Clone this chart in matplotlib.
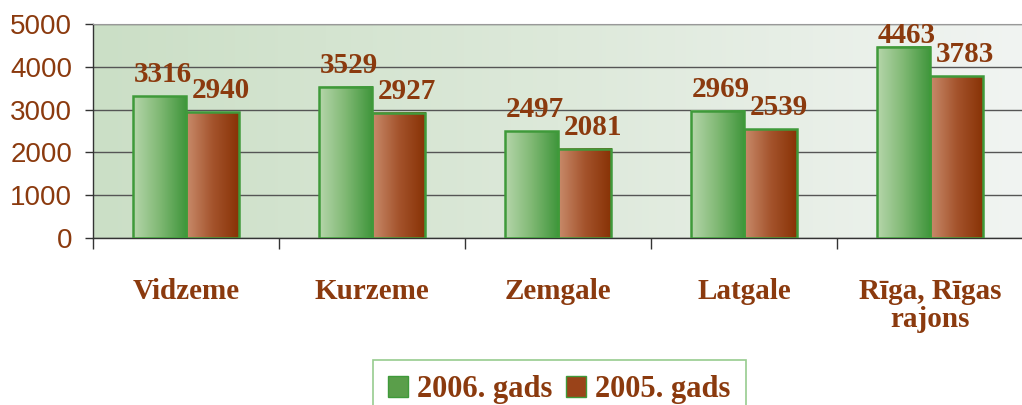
import numpy as np
import matplotlib
matplotlib.use("Agg")
import matplotlib.pyplot as plt
from matplotlib.colors import LinearSegmentedColormap
from matplotlib.patches import Rectangle, Patch

categories = ["Vidzeme", "Kurzeme", "Zemgale", "Latgale", "Rīga, Rīgas\nrajons"]
series_names = ["2006. gads", "2005. gads"]
values_2006 = [3316, 3529, 2497, 2969, 4463]
values_2005 = [2940, 2927, 2081, 2539, 3783]
yticks = [0, 1000, 2000, 3000, 4000, 5000]

brown = "#8b3a0e"
edge_green = "#3f9a3a"
cm_green = LinearSegmentedColormap.from_list("g", ["#b6d6ab", "#7fb873", "#3e953a"])
cm_brown = LinearSegmentedColormap.from_list("b", ["#c98c6c", "#a4532c", "#873104"])
cm_bg = LinearSegmentedColormap.from_list("bg", ["#cbdfc6", "#dde9da", "#f1f4f2"])

fig = plt.figure(figsize=(10.22, 4.05), dpi=100)
ax = fig.add_axes([93/1022, 1-238/405, 930/1022, 214/405])

# background gradient
grad = np.linspace(0, 1, 256).reshape(1, -1)
ax.imshow(grad, extent=[0, 1, 0, 1], transform=ax.transAxes, aspect="auto",
          cmap=cm_bg, zorder=0)

width = 0.285
off = 0.1425
x = np.arange(len(categories))
for xs, vals, cmap, dx, ldx in [(x, values_2006, cm_green, -off, 0.016),
                                (x, values_2005, cm_brown, off, 0.045)]:
    for xi, v in zip(xs, vals):
        x0 = xi + dx - width/2
        x1 = xi + dx + width/2
        ax.imshow(grad, extent=[x0, x1, 0, v], aspect="auto", cmap=cmap, zorder=3)
        ax.add_patch(Rectangle((x0, 0), width, v, fill=False, edgecolor=edge_green,
                               linewidth=1.8, zorder=4))
        ty = min(v + 330, 4560)
        ax.text(xi + dx + ldx, ty, f"{v}", ha="center", va="baseline",
                fontsize=21, fontweight="bold", family="Liberation Serif",
                color=brown, zorder=5)

ax.set_xlim(-0.5, 4.5)
ax.set_ylim(0, 5000)
ax.set_yticks(yticks)
ax.set_yticklabels([str(t) for t in yticks], fontsize=20, color=brown,
                   family="Liberation Sans")
ax.tick_params(axis="y", length=6, width=1, pad=9, color="#333333")
ax.set_xticks(np.arange(-0.5, 5, 1))
ax.set_xticklabels([])
ax.tick_params(axis="x", which="major", length=8, width=1, color="#333333")
ax.set_xticks(x, minor=True)
ax.set_xticklabels(categories, minor=True, fontsize=21, fontweight="bold",
                   family="Liberation Serif", color=brown, linespacing=1.05)
ax.tick_params(axis="x", which="minor", length=0, pad=29)

ax.grid(axis="y", color="#555555", linewidth=1, zorder=1)
ax.set_axisbelow(True)
for s in ["left", "bottom"]:
    ax.spines[s].set_color("#333333")
    ax.spines[s].set_linewidth(1)
ax.spines["top"].set_color("#999999")
ax.spines["right"].set_visible(False)

handles = [Patch(facecolor="#5a9e4a", edgecolor=edge_green, label=series_names[0]),
           Patch(facecolor="#9a4319", edgecolor=edge_green, label=series_names[1])]
leg = fig.legend(handles=handles, loc="upper left",
                 bbox_to_anchor=(373/1022, 1-360/405), ncol=2,
                 prop={"family": "Liberation Serif", "weight": "bold", "size": 22},
                 frameon=True, fancybox=False, handlelength=0.65, handleheight=0.65,
                 handletextpad=0.3, columnspacing=0.45, borderpad=0.5,
                 borderaxespad=0)
for t in leg.get_texts():
    t.set_color(brown)
leg.get_frame().set_edgecolor("#7dbf72")
leg.get_frame().set_linewidth(1.2)

fig.savefig("out.png", dpi=100)
